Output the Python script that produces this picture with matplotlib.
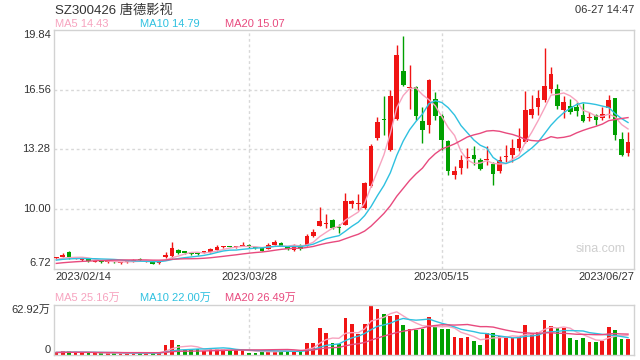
import numpy as np
import pandas as pd
import matplotlib
matplotlib.use('Agg')
import matplotlib.pyplot as plt

plt.rcParams['font.family'] = ['Liberation Sans', 'Noto Sans CJK SC', 'DejaVu Sans']

# daily k-line, 2023/02/14 .. 2023/06/27
opens = [7.28, 7.36, 7.62, 7.26, 7.19, 7.22, 7.10, 7.14, 7.06, 7.11,
         7.02, 7.07, 7.12, 7.25, 7.09, 7.11, 7.00, 7.36, 7.43, 7.76,
         7.66, 7.57, 7.55, 7.58, 7.64, 7.72, 7.90, 7.95, 7.90, 7.98,
         8.04, 7.87, 7.86, 7.80, 8.04, 8.13, 7.94, 7.74, 8.02, 7.98,
         8.53, 9.08, 9.17, 9.41, 8.97, 9.14, 10.27, 10.27, 10.05, 11.24,
         13.90, 14.93, 13.26, 14.96, 17.60, 16.67, 16.69, 14.82, 14.63, 16.05,
         15.09, 13.75, 11.89, 12.23, 12.82, 12.99, 12.71, 12.68, 12.49, 12.07,
         12.87, 12.99, 13.35, 13.66, 15.19, 15.61, 16.01, 16.60, 16.61, 15.42,
         15.68, 15.59, 15.19, 15.02, 15.15, 14.98, 15.55, 16.10, 13.85, 13.08]
closes = [7.32, 7.48, 7.36, 7.30, 7.24, 7.13, 7.13, 7.06, 7.11, 7.06,
          7.06, 7.13, 7.14, 7.19, 7.12, 6.99, 7.10, 7.48, 7.86, 7.59,
          7.57, 7.52, 7.53, 7.66, 7.80, 7.91, 7.92, 7.93, 7.92, 8.00,
          7.89, 7.85, 7.71, 8.04, 8.19, 7.98, 7.80, 8.02, 7.80, 8.49,
          8.71, 9.36, 9.19, 8.95, 8.95, 10.46, 10.46, 10.30, 11.43, 13.48,
          14.76, 14.91, 16.19, 18.48, 16.83, 16.69, 15.09, 14.32, 17.11, 15.13,
          13.77, 12.07, 12.10, 12.71, 12.84, 12.75, 12.20, 12.77, 11.94, 12.68,
          12.89, 13.35, 13.85, 15.46, 15.50, 16.10, 16.78, 17.44, 15.68, 15.88,
          15.31, 15.40, 14.82, 15.08, 14.91, 15.24, 16.01, 14.05, 12.99, 13.70]
highs = [7.38, 7.60, 7.66, 7.33, 7.28, 7.25, 7.16, 7.16, 7.13, 7.13,
         7.08, 7.15, 7.25, 7.28, 7.14, 7.13, 7.12, 7.64, 8.16, 7.80,
         7.70, 7.60, 7.62, 7.70, 7.84, 8.04, 7.97, 7.98, 7.97, 8.16,
         8.06, 7.92, 7.88, 8.10, 8.28, 8.18, 7.96, 8.05, 8.05, 8.64,
         8.90, 10.09, 9.74, 9.45, 9.19, 10.88, 10.50, 10.84, 11.50, 13.55,
         15.05, 16.19, 16.56, 19.03, 19.49, 17.93, 16.75, 15.61, 17.15, 16.41,
         15.20, 13.80, 12.34, 12.99, 13.35, 13.44, 12.78, 13.44, 12.60, 12.93,
         13.53, 13.85, 14.45, 16.47, 16.28, 16.52, 18.85, 17.79, 16.89, 16.19,
         16.05, 15.90, 15.83, 15.34, 15.24, 15.60, 16.28, 16.10, 14.21, 14.21]
lows = [7.25, 7.33, 7.27, 7.22, 7.16, 7.10, 7.07, 7.03, 7.03, 7.03,
        6.99, 7.04, 7.08, 7.15, 7.06, 6.97, 6.95, 7.32, 7.30, 7.50,
        7.52, 7.45, 7.46, 7.55, 7.60, 7.70, 7.85, 7.88, 7.84, 7.94,
        7.86, 7.78, 7.68, 7.78, 8.02, 7.95, 7.76, 7.68, 7.76, 7.96,
        8.45, 9.05, 8.95, 8.92, 8.68, 9.10, 10.05, 9.96, 10.00, 11.20,
        13.80, 14.08, 13.20, 14.90, 16.74, 15.50, 14.91, 13.63, 14.18, 14.91,
        13.26, 11.89, 11.65, 11.94, 12.25, 12.43, 12.15, 12.43, 11.34, 11.98,
        12.56, 12.56, 13.20, 13.60, 15.00, 15.19, 15.90, 16.40, 15.50, 14.98,
        15.20, 15.10, 14.78, 14.82, 14.60, 14.90, 14.98, 13.81, 12.90, 12.90]
# volume, 万手
vols = [3.6, 4.5, 5.2, 3.1, 2.6, 2.9, 2.3, 2.5, 2.1, 2.4,
        2.0, 2.2, 2.7, 3.0, 2.3, 2.6, 3.2, 12.6, 18.9, 12.6,
        6.3, 6.3, 7.1, 5.0, 7.0, 7.0, 7.0, 6.3, 6.3, 5.9,
        3.0, 3.0, 4.2, 5.0, 5.0, 5.0, 5.0, 4.2, 5.0, 15.5,
        14.7, 34.4, 27.3, 14.7, 13.9, 46.1, 39.0, 26.4, 39.0, 62.92,
        57.5, 51.6, 49.1, 50.3, 37.8, 32.3, 31.5, 32.3, 47.4, 34.8,
        32.3, 32.3, 22.2, 21.0, 22.2, 18.0, 12.6, 27.3, 27.3, 23.9,
        21.0, 21.0, 23.9, 37.8, 27.3, 28.5, 44.0, 36.5, 33.6, 33.6,
        21.0, 18.9, 21.0, 16.8, 16.8, 18.0, 34.8, 31.5, 20.1, 20.1]
# days before the window, only used to start the moving averages
pre_close = [6.75, 6.78, 6.80, 6.82, 6.80, 6.83, 6.85, 6.82, 6.86, 6.89,
             7.05, 7.10, 7.15, 7.18, 7.22, 7.15, 7.20, 7.22, 7.21]
pre_vol = [3.0, 2.8, 3.5, 4.0, 3.2, 2.9, 3.6, 3.1, 2.7, 3.3,
           3.8, 3.0, 2.6, 3.4, 3.1, 2.9, 3.5, 3.2, 3.0]

date_labels = ['2023/02/14', '2023/03/28', '2023/05/15', '2023/06/27']
date_idx = [0, 30, 60, 89]
price_ticks = [6.72, 10.00, 13.28, 16.56, 19.84]
ma_text = ['MA5 14.43', 'MA10 14.79', 'MA20 15.07']
vma_text = ['MA5 25.16万', 'MA10 22.00万', 'MA20 26.49万']

RED = '#f01414'
GREEN = '#00a000'
ma_colors = ['#f7a3bf', '#2fc1e0', '#e84a7e']
FRAME = '#d2d2d2'
GRID = '#d8d8d8'

n = len(closes)
x = np.arange(n)
o = np.array(opens); c = np.array(closes); h = np.array(highs); l = np.array(lows)
up = c >= o
cols = [RED if u else GREEN for u in up]

allc = pd.Series(pre_close + closes)
allv = pd.Series(pre_vol + vols)
k = len(pre_close)
ma = [allc.rolling(w, min_periods=1).mean().values[k:] for w in (5, 10, 20)]
vma = [allv.rolling(w, min_periods=1).mean().values[k:] for w in (5, 10, 20)]

fig = plt.figure(figsize=(6.4, 3.6), dpi=100)
ax = fig.add_axes([54/640, 1 - 268.5/360, 580/640, 238.5/360])
axv = fig.add_axes([54/640, 1 - 355/360, 580/640, 50/360])

for a in (ax, axv):
    a.set_xlim(-0.36, 89.93)
    for s in a.spines.values():
        s.set_color(FRAME)
        s.set_linewidth(1)
    a.tick_params(length=0, labelbottom=False, labelleft=False)
    a.set_xticks([30, 60])
    a.grid(axis='x', color=GRID, linestyle=(0, (2, 2)), linewidth=1)
    a.set_axisbelow(True)

ax.set_ylim(6.72, 19.84)
ax.set_yticks([10.00, 13.28, 16.56])
ax.grid(axis='y', color=GRID, linestyle=(0, (2, 2)), linewidth=1)

# candles
ax.vlines(x, l, h, colors=cols, linewidth=1, zorder=2)
body = np.maximum(np.abs(c - o), 0.05)
ax.bar(x, body, bottom=np.minimum(o, c), width=0.72, color=cols, zorder=3, linewidth=0)
for m, col in zip(ma, ma_colors):
    ax.plot(x, m, color=col, linewidth=1, zorder=4)

# volume
axv.set_ylim(0, 62.92)
axv.bar(x, vols, width=0.58, color=cols, linewidth=0, zorder=2)
for m, col in zip(vma, ma_colors):
    axv.plot(x, m, color=col, linewidth=1, zorder=3)

# price axis labels
for p in price_ticks:
    va = 'top' if p == price_ticks[-1] else ('bottom' if p == price_ticks[0] else 'center')
    ax.text(-0.006, p, f'{p:.2f}', transform=ax.get_yaxis_transform(),
            ha='right', va=va, fontsize=8, color='#333333')
axv.text(-0.006, 62.92, '62.92万', transform=axv.get_yaxis_transform(),
         ha='right', va='top', fontsize=8, color='#333333')
axv.text(-0.006, 0, '0', transform=axv.get_yaxis_transform(),
         ha='right', va='bottom', fontsize=8, color='#333333')

# dates between panels
ytxt = 1 - 277/360
for lab, i in zip(date_labels, date_idx):
    if i == date_idx[0]:
        fig.text(55/640, ytxt, lab, ha='left', va='center', fontsize=8, color='#333333')
    elif i == date_idx[-1]:
        fig.text(634/640, ytxt, lab, ha='right', va='center', fontsize=8, color='#333333')
    else:
        ax.text(i, ytxt, lab, transform=matplotlib.transforms.blended_transform_factory(ax.transData, fig.transFigure),
                ha='center', va='center', fontsize=8, color='#333333')

fig.text(55/640, 1 - 10/360, 'SZ300426 唐德影视', ha='left', va='center', fontsize=9.5, color='#333333')
fig.text(634/640, 1 - 10/360, '06-27 14:47', ha='right', va='center', fontsize=8, color='#333333')

for t, xp, col in zip(ma_text, [55, 140, 225], ma_colors):
    fig.text(xp/640, 1 - 24/360, t, ha='left', va='center', fontsize=8, color=col)
for t, xp, col in zip(vma_text, [55, 140, 225], ma_colors):
    fig.text(xp/640, 1 - 298/360, t, ha='left', va='center', fontsize=8, color=col)

ax.text(0.985, 0.08, 'sina.com', transform=ax.transAxes, ha='right', va='center',
        fontsize=9, color='#cfcfcf')

fig.savefig('out.png', dpi=100)
